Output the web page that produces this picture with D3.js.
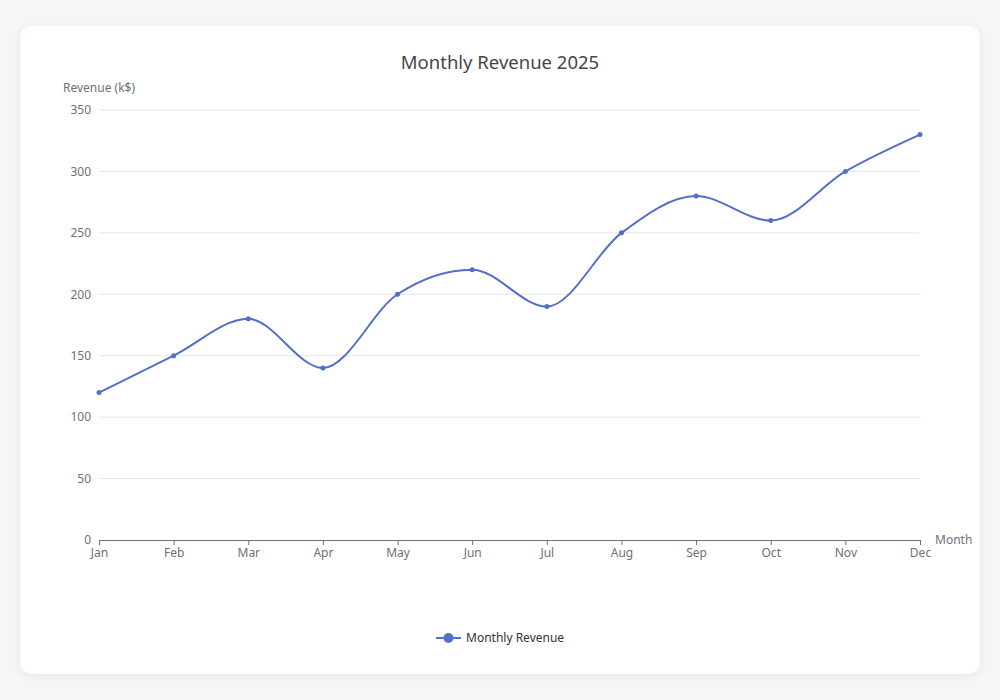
<!DOCTYPE html>
<html lang="en">
<head>
    <title>Monthly Revenue 2025</title>
    <meta charset="utf-8">
    <script src="https://d3js.org/d3.v7.min.js"></script>
    <style>
        body { margin: 0; background: #f5f6f8; font-family: "Noto Sans", sans-serif; }
        .card {
            position: absolute; left: 20px; top: 26px; width: 960px; height: 648px;
            background: #fff; border-radius: 12px;
            box-shadow: 0 2px 10px rgba(0, 0, 0, 0.06);
        }
        #chart { position: absolute; left: 20px; top: 0; width: 920px; height: 648px; }
        #chart svg { overflow: visible; }
    </style>
</head>
<body>
<div class="card"><div id="chart"></div></div>
<script>
    // Chart data
    const months = ["Jan", "Feb", "Mar", "Apr", "May", "Jun", "Jul", "Aug", "Sep", "Oct", "Nov", "Dec"];
    const revenue = [120, 150, 180, 140, 200, 220, 190, 250, 280, 260, 300, 330];
    const yTicks = [0, 50, 100, 150, 200, 250, 300, 350];
    const seriesName = "Monthly Revenue";

    // Layout (svg coords: page x - 40, page y - 26)
    const width = 920, height = 648;
    const margin = {top: 84, right: 40, bottom: 134, left: 59};
    const innerW = width - margin.left - margin.right;
    const innerH = height - margin.top - margin.bottom;
    const axisColor = "#6e7079";
    const lineColor = "#5470c6";

    const svg = d3.select("#chart")
        .append("svg")
        .attr("width", width)
        .attr("height", height)
        .style("font-family", "'Noto Sans', sans-serif");

    // Title
    svg.append("text")
        .attr("x", 460)
        .attr("y", 43)
        .attr("text-anchor", "middle")
        .attr("font-size", 18.5)
        .attr("fill", "#464646")
        .text("Monthly Revenue 2025");

    const g = svg.append("g")
        .attr("transform", `translate(${margin.left},${margin.top})`);

    const x = d3.scalePoint().domain(months).range([0, innerW]);
    const y = d3.scaleLinear().domain([0, 350]).range([innerH, 0]);

    // Grid lines
    g.selectAll(".grid")
        .data(yTicks.filter(d => d > 0))
        .join("line")
        .attr("x1", 0).attr("x2", innerW)
        .attr("y1", d => y(d)).attr("y2", d => y(d))
        .attr("stroke", "#e0e6f1");

    // Y axis labels
    const yAxis = g.append("g")
        .call(d3.axisLeft(y).tickValues(yTicks).tickSize(0).tickPadding(8));
    yAxis.select(".domain").remove();
    yAxis.selectAll("text").attr("fill", axisColor).attr("font-size", 12)
        .style("font-family", "'Noto Sans', sans-serif");

    // Y axis name
    g.append("text")
        .attr("x", 0)
        .attr("y", -18)
        .attr("text-anchor", "middle")
        .attr("font-size", 12)
        .attr("fill", axisColor)
        .text("Revenue (k$)");

    // X axis
    const xAxis = g.append("g")
        .attr("transform", `translate(0,${innerH})`)
        .call(d3.axisBottom(x).tickSize(5).tickPadding(3).tickSizeOuter(0));
    xAxis.select(".domain").attr("stroke", axisColor);
    xAxis.selectAll(".tick line").attr("stroke", axisColor);
    xAxis.selectAll("text").attr("fill", axisColor).attr("font-size", 12)
        .style("font-family", "'Noto Sans', sans-serif");

    // X axis name
    g.append("text")
        .attr("x", innerW + 15)
        .attr("y", innerH)
        .attr("dy", "0.35em")
        .attr("font-size", 12)
        .attr("fill", axisColor)
        .text("Month");

    // Line
    const line = d3.line()
        .x((d, i) => x(months[i]))
        .y(d => y(d))
        .curve(d3.curveMonotoneX);

    g.append("path")
        .datum(revenue)
        .attr("fill", "none")
        .attr("stroke", lineColor)
        .attr("stroke-width", 2)
        .attr("d", line);

    g.selectAll(".pt")
        .data(revenue)
        .join("circle")
        .attr("cx", (d, i) => x(months[i]))
        .attr("cy", d => y(d))
        .attr("r", 2.5)
        .attr("fill", lineColor);

    // Legend
    const legend = svg.append("g").attr("transform", "translate(396,612)");
    legend.append("line")
        .attr("x1", 0).attr("x2", 25)
        .attr("stroke", lineColor).attr("stroke-width", 2);
    legend.append("circle")
        .attr("cx", 12.5).attr("r", 5)
        .attr("fill", lineColor);
    legend.append("text")
        .attr("x", 30)
        .attr("dy", "0.35em")
        .attr("font-size", 12)
        .attr("fill", "#333")
        .text(seriesName);
</script>
</body>
</html>
